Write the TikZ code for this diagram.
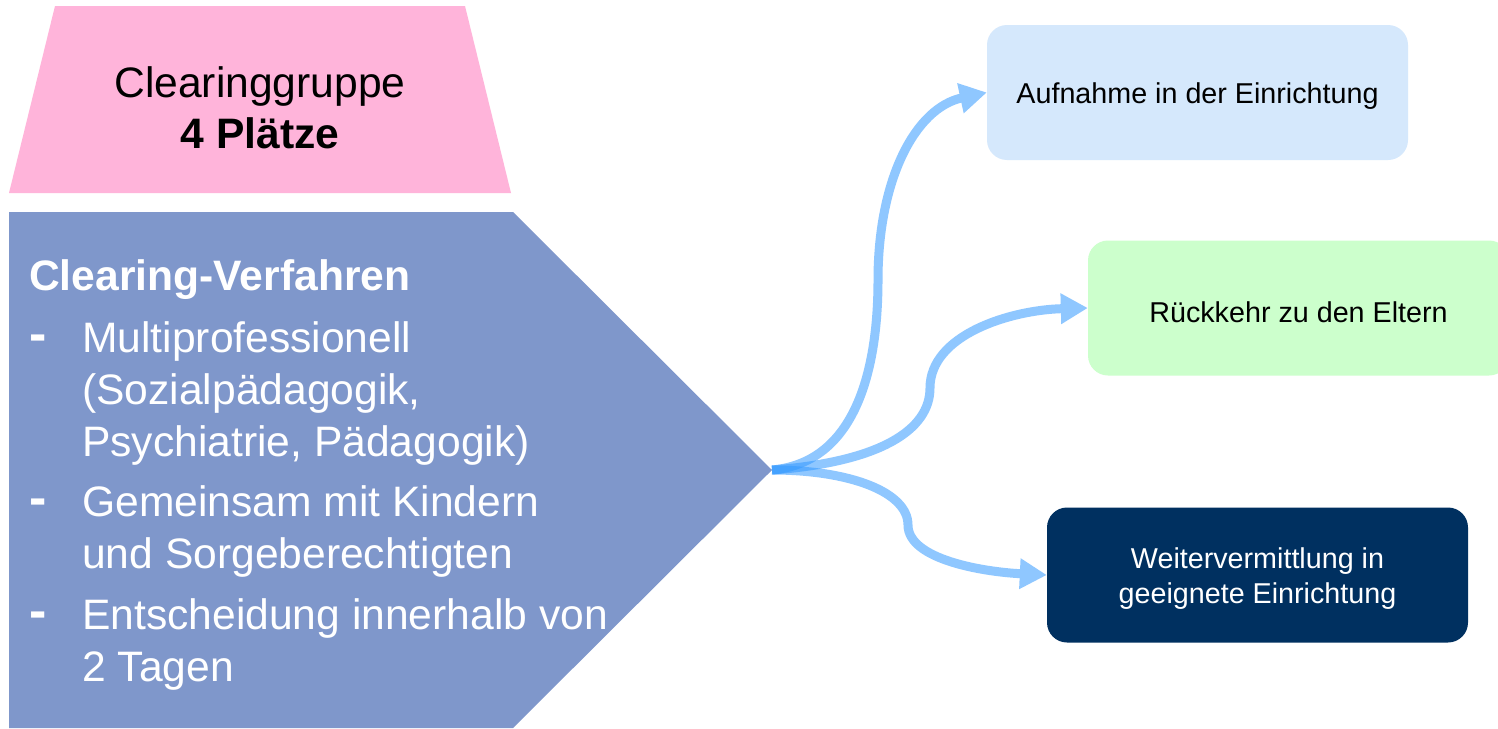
\documentclass[tikz,border=0pt]{standalone}
\usepackage{fontspec}
\setmainfont{Liberation Sans}
\usetikzlibrary{arrows.meta}
\definecolor{pinkfill}{RGB}{255,180,218}
\definecolor{pentfill}{RGB}{127,151,203}
\definecolor{bluebox}{RGB}{213,232,252}
\definecolor{greenbox}{RGB}{204,255,204}
\definecolor{navybox}{RGB}{0,48,96}
\definecolor{arrowblue}{RGB}{51,153,255}
\tikzset{
  bigtext/.style={font=\fontsize{42.6}{51}\selectfont, text=white, inner sep=0pt, anchor=base west},
  dashmark/.style={font=\fontsize{52}{51}\selectfont\bfseries, text=white, inner sep=0pt, anchor=base west},
  titletext/.style={font=\fontsize{42.6}{51}\selectfont, inner sep=0pt, anchor=base},
  resultbox/.style={rounded corners=20pt, minimum width=421pt, minimum height=135pt, inner sep=0pt},
  resulttext/.style={inner sep=0pt, align=center, font=\fontsize{28.7}{35}\selectfont, yshift=-4pt},
  flow/.style={line width=9pt, draw=arrowblue, -{Triangle[length=27pt,width=29pt]}},
}
\begin{document}
\begin{tikzpicture}[x=1pt,y=-1pt]
\clip (0,0) rectangle (1498,728);
\fill[white] (0,0) rectangle (1498,728);
% pink trapezoid
\fill[pinkfill] (55,6) -- (465,6) -- (511,193) -- (9,193) -- cycle;
\node[titletext] (cg1) at (260,97) {Clearinggruppe};
\node[titletext, font=\fontsize{42.6}{51}\selectfont\bfseries] (cg2) at (260,148) {4 Plätze};
% blue pentagon
\coordinate (tip) at (772,470);
\fill[pentfill] (9,212) -- (513,212) -- (tip) -- (513,728) -- (9,728) -- cycle;
\node[bigtext, font=\fontsize{42.6}{51}\selectfont\bfseries] (cv) at (29,290) {Clearing-Verfahren};
\node[dashmark] (d1) at (29,351) {-};
\node[bigtext] (l1) at (82,352) {Multiprofessionell};
\node[bigtext] (l2) at (82,404) {(Sozialpädagogik,};
\node[bigtext] (l3) at (82,456) {Psychiatrie, Pädagogik)};
\node[dashmark] (d2) at (29,515) {-};
\node[bigtext] (l4) at (82,516) {Gemeinsam mit Kindern};
\node[bigtext] (l5) at (82,568) {und Sorgeberechtigten};
\node[dashmark] (d3) at (29,628) {-};
\node[bigtext] (l6) at (82,629) {Entscheidung innerhalb von};
\node[bigtext] (l7) at (82,681) {2 Tagen};
% result boxes
\node[resultbox, fill=bluebox] (b1) at (1197.5,92.5) {};
\node[resulttext] (t1) at (b1.center) {Aufnahme in der Einrichtung};
\node[resultbox, fill=greenbox] (b2) at (1298.5,308) {};
\node[resulttext] (t2) at (b2.center) {Rückkehr zu den Eltern};
\node[resultbox, fill=navybox] (b3) at (1257.5,575) {};
\node[resulttext, text=white] (t3) at (b3.center) {Weitervermittlung in\\geeignete Einrichtung};
% connectors
\begin{scope}[transparency group, opacity=0.55]
\draw[flow] (tip) .. controls (860,462) and (878,360) .. (878,280) .. controls (878,180) and (915,108) .. (b1.west);
\end{scope}
\begin{scope}[transparency group, opacity=0.55]
\draw[flow] (tip) .. controls (880,462) and (930,430) .. (930,388) .. controls (930,335) and (1010,310) .. (b2.west);
\end{scope}
\begin{scope}[transparency group, opacity=0.55]
\draw[flow] (tip) .. controls (850,470) and (908,492) .. (908,525) .. controls (908,560) and (985,572) .. (b3.west);
\end{scope}
\end{tikzpicture}
\end{document}
